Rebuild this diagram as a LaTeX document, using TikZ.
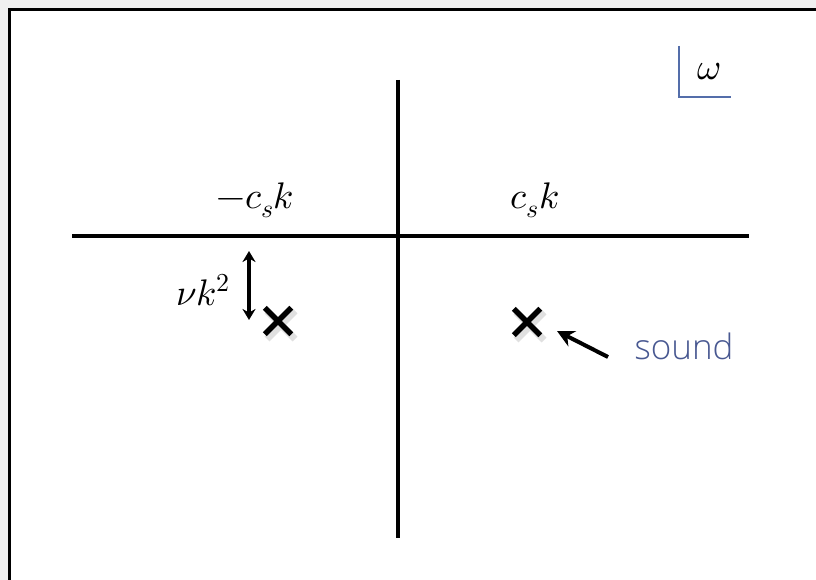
\documentclass[tikz,border=0pt]{standalone}
\usepackage{fontspec}
\usepackage{unicode-math}
\setmathfont{Latin Modern Math}
\newfontfamily\soundfont{Open Sans Light}
\usetikzlibrary{arrows.meta,shapes.misc}
\definecolor{grisFondo}{RGB}{240,240,240}
\definecolor{azulPizarra}{RGB}{72,88,145}
\definecolor{azulMarco}{RGB}{84,110,170}

\begin{document}
\begin{tikzpicture}[x=1pt, y=-1pt,
	    axis/.style={line width=4.5pt},
	    pole/.style={cross out, draw, line width=5.5pt, minimum size=21pt, inner sep=0pt},
	    shade/.style={pole, draw=black!12, line width=7pt},
	    lbl/.style={font=\fontsize{37}{40}\selectfont},
	    line/.style={line width=3.5pt, {Stealth[length=11pt,width=13pt]}-{Stealth[length=11pt,width=13pt]}}]

	    % slide frame
	    \useasboundingbox (0,0) rectangle (816,580);
	    \clip (0,0) rectangle (816,580);
	    \fill[grisFondo] (0,0) rectangle (816,580);
	    \draw[line width=3pt, fill=white] (9.5,9.5) rectangle (840,600);

	    % axes
	    \coordinate (ejeIzq) at (72,236);
	    \coordinate (ejeDer) at (749,236);
	    \coordinate (ejeArr) at (398,80);
	    \coordinate (ejeAba) at (398,538);
	    \draw[axis] (ejeIzq) -- (ejeDer);
	    \draw[axis] (ejeArr) -- (ejeAba);

	    % omega plane label
	    \coordinate (marcoA) at (679,46);
	    \coordinate (marcoB) at (731,97);
	    \draw[azulMarco, line width=1.5pt] (marcoA) |- (marcoB);
	    \node [lbl] (omega) at (709,72) {$\omega$};

	    \node [lbl] (negcs) at (255,200) {$-c_s k$};
	    \node [lbl] (poscs) at (535,200) {$c_s k$};

	    % poles
	    \node [shade] at (281,325) {};
	    \node [shade] at (530,326) {};
	    \node [pole] (p1) at (278,321) {};
	    \node [pole] (p2) at (527,322) {};

	    % damping
	    \coordinate (visArr) at (249,251);
	    \coordinate (visAba) at (249,320);
	    \draw [line] (visArr) -- (visAba);
	    \node [lbl] (visc) at (203,290) {$\nu k^2$};

	    % sound
	    \node [font=\soundfont\fontsize{35}{40}\selectfont, text=azulPizarra] (snd) at (684,346) {sound};
	    \coordinate (flechaCola) at (608,357);
	    \coordinate (flechaPunta) at (557,331);
	    \draw [line width=4pt, -{Stealth[length=17pt,width=17pt]}] (flechaCola) -- (flechaPunta);
	\end{tikzpicture}
\end{document}
